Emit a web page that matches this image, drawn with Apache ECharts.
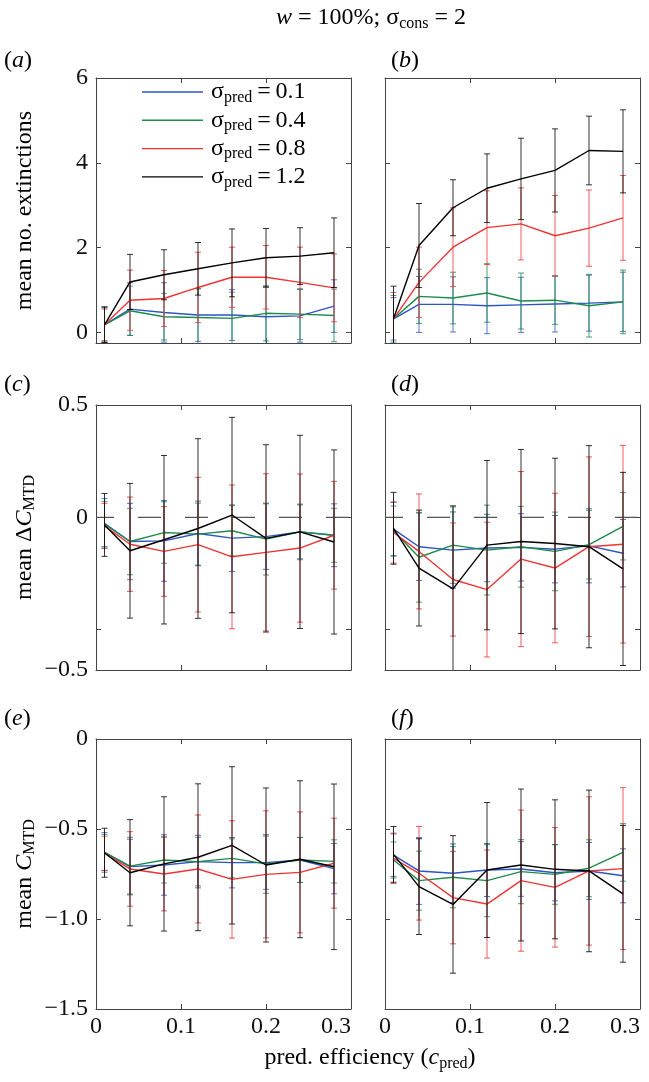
<!DOCTYPE html>
<html><head><meta charset="utf-8">
<script src="https://cdn.jsdelivr.net/npm/echarts@6/dist/echarts.min.js"></script>
<style>html,body{margin:0;padding:0;background:#fff}#c{width:649px;height:1082px}</style>
</head><body><div id="c"></div>
<script>
// ---------------- data ----------------
const cPred = [0.01, 0.04, 0.08, 0.12, 0.16, 0.20, 0.24, 0.28];
const sigmaLabels = ['0.1', '0.4', '0.8', '1.2'];
const xTickValues = [0, 0.1, 0.2, 0.3];
const xTickLabels = ['0', '0.1', '0.2', '0.3'];

// rows: sigma_pred = 0.1, 0.4, 0.8, 1.2
// (a) mean no. extinctions, left column
const meanA = [
  [0.18, 0.55, 0.47, 0.41, 0.41, 0.37, 0.39, 0.62],
  [0.18, 0.51, 0.37, 0.35, 0.33, 0.45, 0.43, 0.40],
  [0.18, 0.76, 0.80, 1.06, 1.30, 1.30, 1.18, 1.05],
  [0.18, 1.19, 1.36, 1.50, 1.64, 1.76, 1.80, 1.88]];
const errA = [
  [0.42, 0.62, 0.70, 0.62, 0.60, 0.70, 0.62, 0.62],
  [0.40, 0.58, 0.55, 0.68, 0.62, 0.65, 0.60, 0.62],
  [0.37, 0.71, 0.66, 0.83, 0.71, 0.75, 0.83, 0.80],
  [0.42, 0.65, 0.59, 0.62, 0.80, 0.69, 0.67, 0.82]];
// (b)
const meanB = [
  [0.32, 0.66, 0.66, 0.63, 0.65, 0.67, 0.69, 0.72],
  [0.32, 0.85, 0.81, 0.93, 0.74, 0.76, 0.63, 0.72],
  [0.32, 1.18, 2.01, 2.47, 2.56, 2.28, 2.46, 2.70],
  [0.32, 2.05, 2.94, 3.40, 3.62, 3.82, 4.29, 4.27]];
const errB = [
  [0.50, 0.66, 0.65, 0.66, 0.65, 0.66, 0.66, 0.70],
  [0.55, 0.64, 0.61, 0.69, 0.66, 0.57, 0.74, 0.75],
  [0.62, 0.83, 0.93, 0.87, 0.85, 0.95, 0.90, 1.00],
  [0.77, 0.99, 0.66, 0.81, 0.96, 0.98, 0.81, 0.98]];
// (c) mean delta C_MTD
const meanC = [
  [-0.027, -0.108, -0.105, -0.072, -0.093, -0.086, -0.065, -0.080],
  [-0.030, -0.108, -0.068, -0.075, -0.060, -0.097, -0.065, -0.080],
  [-0.038, -0.120, -0.152, -0.122, -0.176, -0.156, -0.137, -0.080],
  [-0.034, -0.149, -0.100, -0.050, 0.010, -0.094, -0.065, -0.110]];
const errC = [
  [0.110, 0.170, 0.180, 0.144, 0.148, 0.146, 0.120, 0.140],
  [0.100, 0.148, 0.137, 0.138, 0.112, 0.160, 0.124, 0.120],
  [0.100, 0.210, 0.200, 0.300, 0.320, 0.350, 0.330, 0.240],
  [0.140, 0.300, 0.375, 0.400, 0.435, 0.417, 0.430, 0.410]];
// (d)
const meanD = [
  [-0.053, -0.131, -0.146, -0.137, -0.134, -0.142, -0.127, -0.160],
  [-0.060, -0.178, -0.124, -0.146, -0.131, -0.152, -0.122, -0.040],
  [-0.068, -0.152, -0.277, -0.322, -0.186, -0.226, -0.131, -0.120],
  [-0.049, -0.226, -0.319, -0.124, -0.108, -0.117, -0.131, -0.230]];
const errD = [
  [0.120, 0.150, 0.170, 0.150, 0.150, 0.150, 0.165, 0.150],
  [0.110, 0.200, 0.170, 0.200, 0.180, 0.175, 0.153, 0.150],
  [0.136, 0.256, 0.252, 0.300, 0.390, 0.333, 0.400, 0.440],
  [0.160, 0.258, 0.370, 0.377, 0.410, 0.380, 0.450, 0.430]];
// (e) mean C_MTD
const meanE = [
  [-0.630, -0.709, -0.700, -0.681, -0.687, -0.687, -0.672, -0.720],
  [-0.630, -0.706, -0.672, -0.681, -0.663, -0.694, -0.672, -0.680],
  [-0.635, -0.722, -0.750, -0.722, -0.780, -0.752, -0.741, -0.690],
  [-0.632, -0.743, -0.694, -0.657, -0.591, -0.700, -0.668, -0.710]];
const errE = [
  [0.110, 0.152, 0.168, 0.146, 0.140, 0.148, 0.125, 0.140],
  [0.100, 0.160, 0.128, 0.135, 0.108, 0.163, 0.125, 0.120],
  [0.095, 0.207, 0.205, 0.300, 0.326, 0.353, 0.336, 0.250],
  [0.136, 0.295, 0.373, 0.408, 0.437, 0.428, 0.436, 0.460]];
// (f)
const meanF = [
  [-0.645, -0.733, -0.746, -0.728, -0.722, -0.743, -0.733, -0.760],
  [-0.672, -0.787, -0.768, -0.787, -0.737, -0.752, -0.718, -0.630],
  [-0.663, -0.746, -0.881, -0.917, -0.787, -0.824, -0.733, -0.720],
  [-0.641, -0.820, -0.919, -0.728, -0.700, -0.724, -0.733, -0.860]];
const errF = [
  [0.118, 0.186, 0.163, 0.147, 0.152, 0.156, 0.158, 0.150],
  [0.100, 0.164, 0.170, 0.200, 0.178, 0.166, 0.158, 0.160],
  [0.140, 0.260, 0.257, 0.300, 0.392, 0.332, 0.412, 0.450],
  [0.155, 0.266, 0.382, 0.375, 0.422, 0.386, 0.449, 0.380]];

// y-axis ranges and ticks per row
const extRange = [-0.25, 6];
const extTicks = [0, 2, 4, 6];
const extTickLabels = ['0', '2', '4', '6'];
const dRange = [-0.68, 0.5];
const dTicks = [-0.5, 0, 0.5];
const dLabelPos = [-0.68, 0, 0.5];
const dTickLabels = ['\u22120.5', '0', '0.5'];
const cRange = [-1.5, 0];
const cTicks = [-1.5, -1.0, -0.5, 0];
const cTickLabels = ['\u22121.5', '\u22121.0', '\u22120.5', '0'];
const zeroLine = [[0, 0], [0.3, 0]];

// ---------------- styling ----------------
const FF = "'Liberation Serif','Times New Roman',serif";
const lineColors = ['#2c55c2', '#1f8b4b', '#ee3434', '#000000'];
const barColors = ['rgba(44,85,194,0.8)', 'rgba(31,139,75,0.8)', 'rgba(238,52,52,0.8)', 'rgba(0,0,0,0.8)'];
const axisColor = '#444';
const richO = {
  n: {fontFamily: FF, fontSize: 24, lineHeight: 27, color: '#000', fill: '#000'},
  i: {fontFamily: FF, fontSize: 24, lineHeight: 27, fontStyle: 'italic', color: '#000', fill: '#000'},
  sub: {fontFamily: FF, fontSize: 16, lineHeight: 13, verticalAlign: 'bottom', color: '#000', fill: '#000'}
};

const gridBoxes = [
  {left: 96, top: 78, width: 255, height: 265},
  {left: 385, top: 78, width: 255, height: 265},
  {left: 96, top: 405, width: 255, height: 265},
  {left: 385, top: 405, width: 255, height: 265},
  {left: 96, top: 739, width: 255, height: 270},
  {left: 385, top: 739, width: 255, height: 270}
];
const panels = [
  {mean: meanA, err: errA}, {mean: meanB, err: errB},
  {mean: meanC, err: errC}, {mean: meanD, err: errD},
  {mean: meanE, err: errE}, {mean: meanF, err: errF}
];
const rowY = [
  {range: extRange, ticks: extTicks, labelPos: extTicks, labels: extTickLabels,
   name: '{n|mean no. extinctions}'},
  {range: dRange, ticks: dTicks, labelPos: dLabelPos, labels: dTickLabels,
   name: '{n|mean \u0394}{i|C}{sub|MTD}'},
  {range: cRange, ticks: cTicks, labelPos: cTicks, labels: cTickLabels,
   name: '{n|mean }{i|C}{sub|MTD}'}
];

const grid = [], xAxis = [], yAxis = [], series = [];
function renderErr(params, api) {
  const x = api.value(0), lo = api.value(1), hi = api.value(2);
  const p1 = api.coord([x, lo]), p2 = api.coord([x, hi]);
  const cw = 3;
  const st = {stroke: api.visual('color'), lineWidth: 1, fill: null};
  return {type: 'group', children: [
    {type: 'line', shape: {x1: p1[0], y1: p1[1], x2: p2[0], y2: p2[1]}, style: st},
    {type: 'line', shape: {x1: p1[0] - cw, y1: p1[1], x2: p1[0] + cw, y2: p1[1]}, style: st},
    {type: 'line', shape: {x1: p2[0] - cw, y1: p2[1], x2: p2[0] + cw, y2: p2[1]}, style: st}
  ]};
}

gridBoxes.forEach((b, gi) => {
  const row = Math.floor(gi / 2), col = gi % 2;
  const ry = rowY[row];
  grid.push(Object.assign({outerBoundsMode: 'none', containLabel: false}, b));
  const axLine = {show: true, onZero: false, lineStyle: {color: axisColor, width: 1}};
  const tick = (vals) => ({show: true, inside: true, length: 5, customValues: vals, lineStyle: {color: axisColor, width: 1}});
  xAxis.push({
    type: 'value', gridIndex: gi, position: 'bottom', min: 0, max: 0.3,
    axisLine: axLine, axisTick: tick(xTickValues), splitLine: {show: false},
    axisLabel: {show: row === 2, customValues: xTickValues, margin: 6, fontFamily: FF, fontSize: 24, color: '#111',
      alignMaxLabel: 'right',
      formatter: v => xTickLabels[xTickValues.findIndex(t => Math.abs(t - v) < 1e-6)]}
  });
  xAxis.push({
    type: 'value', gridIndex: gi, position: 'top', min: 0, max: 0.3,
    axisLine: axLine, axisTick: tick(xTickValues), splitLine: {show: false}, axisLabel: {show: false}
  });
  yAxis.push({
    type: 'value', gridIndex: gi, position: 'left', min: ry.range[0], max: ry.range[1],
    axisLine: axLine, axisTick: tick(ry.ticks), splitLine: {show: false},
    axisLabel: {show: col === 0, customValues: ry.labelPos, margin: 8, fontFamily: FF, fontSize: 24, color: '#111',
      formatter: v => ry.labels[ry.labelPos.findIndex(t => Math.abs(t - v) < 1e-6)]},
    name: col === 0 ? ry.name : '', nameLocation: 'middle', nameRotate: 90, nameGap: 58,
    nameTextStyle: {rich: richO}
  });
  yAxis.push({
    type: 'value', gridIndex: gi, position: 'right', min: ry.range[0], max: ry.range[1],
    axisLine: axLine, axisTick: tick(ry.ticks), splitLine: {show: false}, axisLabel: {show: false}
  });
  if (row === 1) {
    series.push({type: 'line', xAxisIndex: 2 * gi, yAxisIndex: 2 * gi, data: zeroLine, showSymbol: false, symbol: 'none',
      z: 1, silent: true, lineStyle: {color: '#555', width: 1.3, type: [23, 24], dashOffset: 5}});
  }
  const p = panels[gi];
  for (let k = 0; k < 4; k++) {
    series.push({
      type: 'custom', xAxisIndex: 2 * gi, yAxisIndex: 2 * gi, clip: true, silent: true, z: 2 + 2 * k,
      renderItem: renderErr, itemStyle: {color: barColors[k]}, encode: {x: 0, y: [1, 2]},
      data: cPred.map((x, j) => [x, p.mean[k][j] - p.err[k][j], p.mean[k][j] + p.err[k][j]])
    });
    series.push({
      type: 'line', name: sigmaLabels[k], xAxisIndex: 2 * gi, yAxisIndex: 2 * gi, z: 3 + 2 * k,
      showSymbol: false, symbol: 'none', silent: true,
      lineStyle: {color: lineColors[k], width: 1.4}, itemStyle: {color: lineColors[k]},
      data: cPred.map((x, j) => [x, p.mean[k][j]])
    });
  }
});

const panelLetters = ['a', 'b', 'c', 'd', 'e', 'f'];
const letterPos = [[4, 61], [391, 61], [4, 385], [391, 385], [4, 719], [391, 719]];
const graphic = [
  {type: 'text', x: 371, y: 18, style: {text: '{i|w}{n| = 100%; \u03c3}{sub|cons}{n| = 2}', rich: richO, align: 'center', verticalAlign: 'middle'}},
  {type: 'text', x: 370, y: 1058, style: {text: '{n|pred. efficiency (}{i|c}{sub|pred}{n|)}', rich: richO, align: 'center', verticalAlign: 'middle'}}
];
panelLetters.forEach((l, i) => graphic.push({type: 'text', x: letterPos[i][0], y: letterPos[i][1],
  style: {text: '{n|(}{i|' + l + '}{n|)}', rich: richO, align: 'left', verticalAlign: 'middle'}}));

const chart = echarts.init(document.getElementById('c'), null, {renderer: 'canvas'});
chart.setOption({
  backgroundColor: '#fff',
  animation: false,
  grid, xAxis, yAxis, series, graphic,
  legend: {
    show: true, orient: 'vertical', left: 142, top: 80, padding: 0, itemWidth: 61, itemHeight: 1.4, itemGap: 2.8,
    icon: 'rect', data: sigmaLabels, selectedMode: false,
    formatter: n => '{n|\u03c3}{sub|pred}{n|\u2009=\u2009' + n + '}',
    textStyle: {rich: richO, padding: [0, 0, 0, 3]}
  }
});
</script></body></html>
